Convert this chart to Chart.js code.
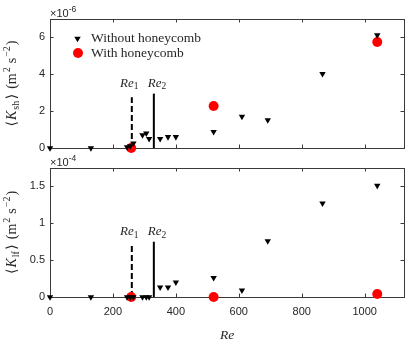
<!DOCTYPE html>
<html>
<head>
<meta charset="utf-8">
<script src="https://cdn.jsdelivr.net/npm/chart.js@4.4.1/dist/chart.umd.min.js"></script>
<style>
  html, body { margin: 0; padding: 0; background: #fff; }
  #wrap { position: relative; width: 409px; height: 343px; overflow: hidden; }
  canvas { position: absolute; left: 0; }
</style>
</head>
<body>
<div id="wrap">
  <canvas id="topChart" width="409" height="165" style="top:0"></canvas>
  <canvas id="botChart" width="409" height="193" style="top:150px"></canvas>
</div>
<script>
// data
const reValues   = [0, 130, 245, 255, 265, 294, 306, 315, 350, 375, 400, 520, 610, 692, 866, 1040];
const kshWithout = [0, 0, 0.05, 0.1, 0.25, 0.7, 0.8, 0.5, 0.5, 0.6, 0.6, 0.88, 1.7, 1.52, 4.02, 6.12]; // x1e-6
const klfWithout = [0, 0, 0, 0, 0, 0, 0, 0, 0.13, 0.13, 0.2, 0.26, 0.09, 0.76, 1.27, 1.51];         // x1e-4
const reHoneycomb = [258, 520, 1040];
const kshWith = [0, 2.28, 5.75];
const klfWith = [0, 0, 0.04];
const reCrit = [260, 330];          // Re1, Re2
const kshCritTop = [2.75, 2.95];
const klfCritTop = [0.7, 0.75];
const xTicks = [0, 200, 400, 600, 800, 1000];
const kshTicks = [0, 2, 4, 6];
const klfTicks = [0, 0.5, 1, 1.5];
const legendLabels = ['Without honeycomb', 'With honeycomb'];

const SANS = '"Liberation Sans", Arial, sans-serif';
const SERIF = '"Liberation Serif", "DejaVu Serif", serif';
const AXIS = '#3a3a3a';
const TXT = '#262626';

function pts(xs, ys) { return xs.map((x, i) => ({ x: x, y: ys[i] })); }

function drawRuns(ctx, runs, x, y, align) {
  let w = 0;
  runs.forEach(r => { ctx.font = r.f; w += ctx.measureText(r.t).width + (r.gap || 0); });
  let cx = align === 'center' ? x - w / 2 : x;
  ctx.textAlign = 'left';
  ctx.textBaseline = 'alphabetic';
  runs.forEach(r => {
    ctx.font = r.f;
    ctx.fillText(r.t, cx, y + (r.dy || 0));
    cx += ctx.measureText(r.t).width + (r.gap || 0);
  });
}

function downTriangle(ctx, x, y, r) {
  ctx.beginPath();
  ctx.moveTo(x, y + r);
  ctx.lineTo(x - r * 0.866, y - r * 0.5);
  ctx.lineTo(x + r * 0.866, y - r * 0.5);
  ctx.closePath();
  ctx.fill();
}

const frame = {
  id: 'frame',
  beforeDatasetsDraw(chart) {
    const { ctx, chartArea: a, scales } = chart;
    const o = chart.options.plugins.frame;
    ctx.save();
    ctx.strokeStyle = AXIS;
    ctx.lineWidth = 1;
    ctx.strokeRect(a.left + 0.5, a.top + 0.5, a.right - a.left, a.bottom - a.top);
    ctx.beginPath();
    xTicks.forEach(v => {
      const px = Math.round(scales.x.getPixelForValue(v)) + 0.5;
      ctx.moveTo(px, a.bottom); ctx.lineTo(px, a.bottom - 3.5);
      ctx.moveTo(px, a.top); ctx.lineTo(px, a.top + 3.5);
    });
    o.yTicks.forEach(v => {
      const py = Math.round(scales.y.getPixelForValue(v)) + 0.5;
      ctx.moveTo(a.left, py); ctx.lineTo(a.left + 3.5, py);
      ctx.moveTo(a.right, py); ctx.lineTo(a.right - 3.5, py);
    });
    ctx.stroke();
    ctx.restore();
  },
  afterDatasetsDraw(chart) {
    const { ctx, chartArea: a, scales } = chart;
    const o = chart.options.plugins.frame;
    ctx.save();
    ctx.fillStyle = TXT;

    // exponent above the axes
    drawRuns(ctx, [
      { t: '\u00d710', f: `11px ${SANS}` },
      { t: o.exponent, f: `8.5px ${SANS}`, dy: -5 }
    ], a.left, a.top - 2.5, 'left');

    // Re1 / Re2 labels
    o.reLabelX.forEach((xv, i) => {
      drawRuns(ctx, [
        { t: 'Re', f: `italic 13px ${SERIF}` },
        { t: String(i + 1), f: `9.5px ${SERIF}`, dy: 2.5 }
      ], scales.x.getPixelForValue(xv), scales.y.getPixelForValue(o.reLabelY), 'center');
    });

    // y axis title, rotated
    ctx.save();
    ctx.translate(15.5, (a.top + a.bottom) / 2);
    ctx.rotate(-Math.PI / 2);
    drawRuns(ctx, [
      { t: '\u27e8', f: `14px ${SERIF}`, gap: 1 },
      { t: 'K', f: `italic 14px ${SERIF}`, gap: 1 },
      { t: o.sub, f: `10px ${SERIF}`, dy: 3, gap: 1.5 },
      { t: '\u27e9', f: `14px ${SERIF}`, gap: 5 },
      { t: '(m', f: `14px ${SERIF}`, gap: 1 },
      { t: '2', f: `10px ${SERIF}`, dy: -6, gap: 4 },
      { t: 's', f: `14px ${SERIF}`, gap: 1 },
      { t: '\u22122', f: `10px ${SERIF}`, dy: -6, gap: 1 },
      { t: ')', f: `14px ${SERIF}` }
    ], 0, 0, 'center');
    ctx.restore();

    if (o.legend) {
      ctx.fillStyle = '#000';
      downTriangle(ctx, 77.5, 38.5, 3.7);
      ctx.fillStyle = '#ff0000';
      ctx.beginPath(); ctx.arc(78, 53, 5, 0, Math.PI * 2); ctx.fill();
      ctx.fillStyle = TXT;
      ctx.font = `13.5px ${SERIF}`;
      ctx.textBaseline = 'middle';
      ctx.fillText(legendLabels[0], 91, 38.5);
      ctx.fillText(legendLabels[1], 91, 53);
    }

    if (o.xTitle) {
      drawRuns(ctx, [{ t: 'Re', f: `italic 13.5px ${SERIF}` }], (a.left + a.right) / 2, 188.5, 'center');
    }
    ctx.restore();
  }
};

function makePanel(id, without, withHc, critTop, yMax, yTicks, o, pad, xHeight, showXLabels) {
  return new Chart(document.getElementById(id), {
    type: 'scatter',
    data: {
      datasets: [
        {
          data: pts(reValues, without),
          pointStyle: 'triangle', rotation: 180, pointRadius: 3.7, pointHoverRadius: 3.7,
          backgroundColor: '#000', borderColor: '#000', borderWidth: 0, clip: false
        },
        {
          data: pts(reHoneycomb, withHc),
          pointStyle: 'circle', pointRadius: 5, pointHoverRadius: 5,
          backgroundColor: '#ff0000', borderColor: '#ff0000', borderWidth: 0, clip: false
        },
        {
          data: [{ x: reCrit[0], y: 0 }, { x: reCrit[0], y: critTop[0] }],
          showLine: true, pointRadius: 0, borderColor: '#000', borderWidth: 2, borderDash: [6, 3]
        },
        {
          data: [{ x: reCrit[1], y: 0 }, { x: reCrit[1], y: critTop[1] }],
          showLine: true, pointRadius: 0, borderColor: '#000', borderWidth: 2
        }
      ]
    },
    options: {
      responsive: false,
      animation: false,
      devicePixelRatio: 1,
      layout: { padding: { top: pad, right: 2, left: 0, bottom: 0 } },
      plugins: { legend: { display: false }, tooltip: { enabled: false }, frame: o },
      scales: {
        x: {
          type: 'linear', min: 0, max: 1125,
          afterBuildTicks: s => { s.ticks = xTicks.map(v => ({ value: v })); },
          afterFit: s => { s.height = xHeight; },
          grid: { display: false, drawTicks: false },
          border: { display: false },
          ticks: {
            display: showXLabels, padding: 8, color: TXT,
            font: { family: SANS, size: 11 },
            callback: v => String(v)
          }
        },
        y: {
          min: 0, max: yMax,
          afterBuildTicks: s => { s.ticks = yTicks.map(v => ({ value: v })); },
          afterFit: s => { s.width = 50; },
          grid: { display: false, drawTicks: false },
          border: { display: false },
          ticks: {
            padding: 5, color: TXT,
            font: { family: SANS, size: 11 },
            callback: v => String(v)
          }
        }
      }
    },
    plugins: [frame]
  });
}

makePanel('topChart', kshWithout, kshWith, kshCritTop, 7, kshTicks,
  { yTicks: kshTicks, exponent: '-6', sub: 'sh', reLabelX: [252, 340], reLabelY: 3.33, legend: true, xTitle: false },
  19, 17, false);

makePanel('botChart', klfWithout, klfWith, klfCritTop, 1.75, klfTicks,
  { yTicks: klfTicks, exponent: '-4', sub: 'lf', reLabelX: [252, 340], reLabelY: 0.84, legend: false, xTitle: true },
  18, 46, true);
</script>
</body>
</html>
